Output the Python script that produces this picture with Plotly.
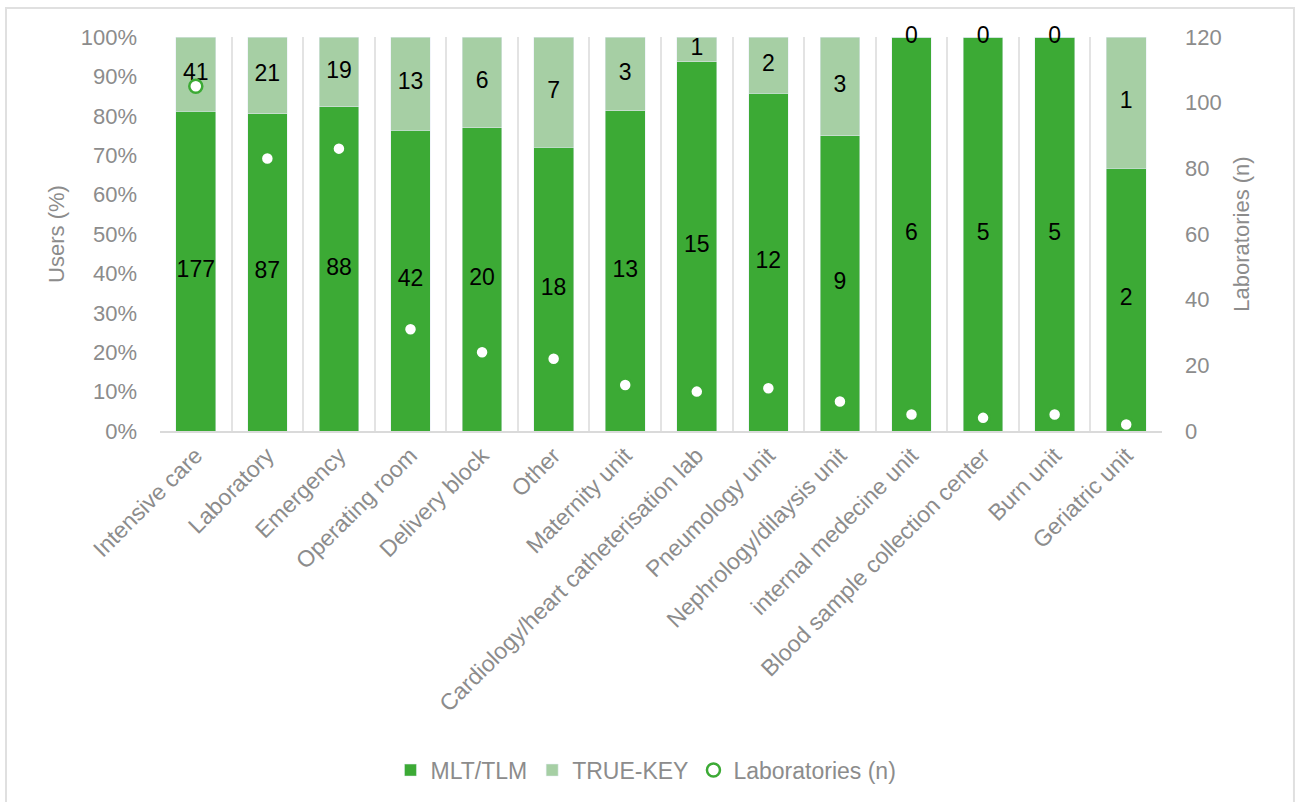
import plotly.graph_objects as go

# Hospital units (x categories)
units = [
    "Intensive care", "Laboratory", "Emergency", "Operating room", "Delivery block",
    "Other", "Maternity unit", "Cardiology/heart catheterisation lab", "Pneumology unit",
    "Nephrology/dilaysis unit", "internal medecine unit", "Blood sample collection center",
    "Burn unit", "Geriatric unit",
]
# Users per unit
mlt_tlm = [177, 87, 88, 42, 20, 18, 13, 15, 12, 9, 6, 5, 5, 2]
true_key = [41, 21, 19, 13, 6, 7, 3, 1, 2, 3, 0, 0, 0, 1]
# Number of laboratories per unit
laboratories = [105, 83, 86, 31, 24, 22, 14, 12, 13, 9, 5, 4, 5, 2]

pct_ticks = [i / 10 for i in range(11)]
lab_ticks = list(range(0, 121, 20))

DARK = "#3CAA35"
LIGHT = "#A6CFA4"
GREY = "#8C8C8C"
FONT = "Liberation Sans, Arial, sans-serif"

totals = [a + b for a, b in zip(mlt_tlm, true_key)]
share_mlt = [a / t for a, t in zip(mlt_tlm, totals)]
share_tk = [b / t for b, t in zip(true_key, totals)]

fig = go.Figure()
fig.add_trace(go.Bar(x=units, y=share_mlt, name="MLT/TLM", marker=dict(color=DARK),
                     hoverinfo="skip"))
fig.add_trace(go.Bar(x=units, y=share_tk, name="TRUE-KEY", marker=dict(color=LIGHT),
                     hoverinfo="skip"))

# count labels centred in each stacked segment
label_font = dict(size=23, color="black", family=FONT)
fig.add_trace(go.Scatter(
    x=units, y=[s / 2 for s in share_mlt], mode="text",
    text=[str(v) for v in mlt_tlm], textposition="middle center",
    textfont=label_font, cliponaxis=False, showlegend=False, hoverinfo="skip"))
fig.add_trace(go.Scatter(
    x=units, y=[m + k / 2 for m, k in zip(share_mlt, share_tk)], mode="text",
    text=[str(v) for v in true_key], textposition="middle center",
    textfont=label_font, cliponaxis=False, showlegend=False, hoverinfo="skip"))

fig.add_trace(go.Scatter(
    x=units, y=laboratories, name="Laboratories (n)", mode="markers", yaxis="y2",
    marker=dict(symbol="circle", size=13, color="white", line=dict(color=DARK, width=2.5)),
    cliponaxis=False, hoverinfo="skip"))

fig.update_layout(
    width=1295, height=802,
    margin=dict(l=160, r=133, t=37, b=370),
    paper_bgcolor="white", plot_bgcolor="white",
    barmode="stack", bargap=0.445,
    font=dict(family=FONT, color=GREY, size=22),
    showlegend=True,
    legend=dict(orientation="h", x=0.485, xanchor="center", y=-0.856, yanchor="middle",
                font=dict(size=23, color=GREY), itemwidth=30, traceorder="normal"),
    xaxis=dict(type="category", range=[-0.5, len(units) - 0.5], tickson="boundaries",
               showgrid=True, gridcolor="#E3E3E3", gridwidth=2,
               showline=True, linecolor="#DADADA", linewidth=2,
               ticks="", tickangle=-45, tickfont=dict(size=23, color=GREY)),
    yaxis=dict(range=[0, 1], tickvals=pct_ticks, tickformat=".0%", showgrid=False,
               zeroline=False, ticks="", ticklabelstandoff=22,
               tickfont=dict(size=22, color=GREY),
               title=dict(text="Users (%)", font=dict(size=22, color=GREY), standoff=10)),
    yaxis2=dict(range=[0, 120], tickvals=lab_ticks, overlaying="y", side="right",
                showgrid=False, zeroline=False, ticks="", ticklabelstandoff=22,
                tickfont=dict(size=22, color=GREY),
                title=dict(text="Laboratories (n)", font=dict(size=22, color=GREY),
                           standoff=12)),
    shapes=[dict(type="rect", xref="paper", yref="paper",
                 x0=-0.1537, x1=1.1317, y0=-0.96, y1=1.0734,
                 line=dict(color="#E0E0E0", width=2), fillcolor="rgba(0,0,0,0)",
                 layer="below")],
)

fig.write_html("out.html")
